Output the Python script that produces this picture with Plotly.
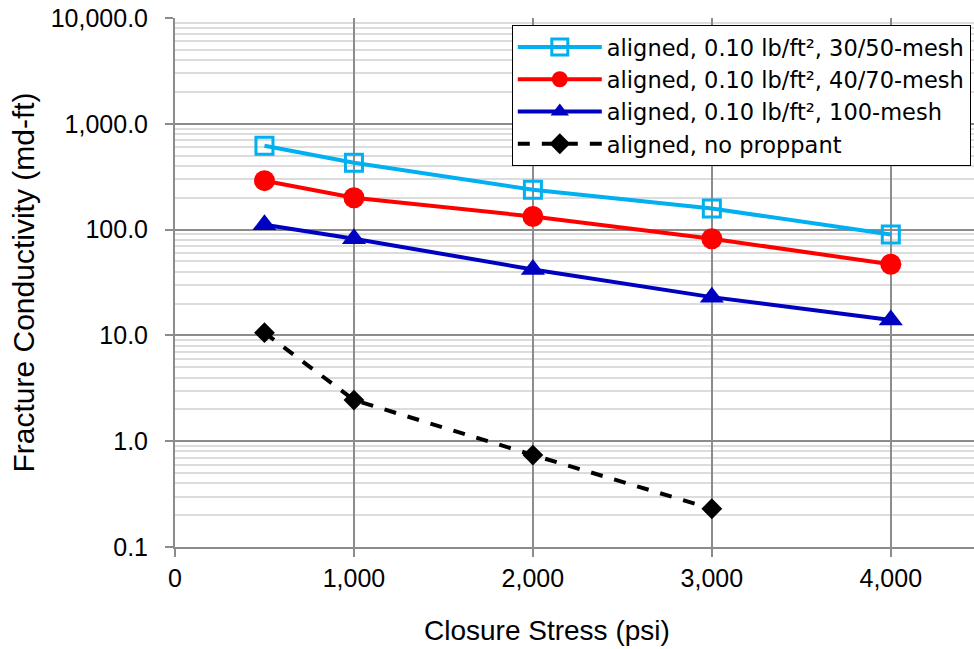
import plotly.graph_objects as go

stress = [500, 1000, 2000, 3000, 4000]
mesh_30_50 = [620, 428, 238, 158, 90]
mesh_40_70 = [290, 200, 133, 82, 47]
mesh_100 = [111, 82, 42, 23, 14]
stress_np = [500, 1000, 2000, 3000]
no_proppant = [10.6, 2.45, 0.74, 0.23]

y_tickvals = [0.1, 1, 10, 100, 1000, 10000]
y_ticktext = ["0.1", "1.0", "10.0", "100.0", "1,000.0", "10,000.0"]
x_tickvals = [0, 1000, 2000, 3000, 4000]
x_ticktext = ["0", "1,000", "2,000", "3,000", "4,000"]

AXIS_FONT = "Liberation Sans, Arial, sans-serif"

fig = go.Figure()
fig.add_trace(go.Scatter(x=stress, y=mesh_30_50, mode="lines+markers",
                         name="aligned, 0.10 lb/ft², 30/50-mesh",
                         line=dict(color="#00B0F0", width=4),
                         marker=dict(symbol="square-open", size=17, color="#00B0F0", line=dict(width=3, color="#00B0F0"))))
fig.add_trace(go.Scatter(x=stress, y=mesh_40_70, mode="lines+markers",
                         name="aligned, 0.10 lb/ft², 40/70-mesh",
                         line=dict(color="#FF0000", width=4),
                         marker=dict(symbol="circle", size=21, color="#FF0000")))
fig.add_trace(go.Scatter(x=stress, y=mesh_100, mode="lines+markers",
                         name="aligned, 0.10 lb/ft², 100-mesh",
                         line=dict(color="#0000C0", width=4),
                         marker=dict(symbol="triangle-up", size=21, color="#0000C0")))
fig.add_trace(go.Scatter(x=stress_np, y=no_proppant, mode="lines+markers",
                         name="aligned, no proppant",
                         line=dict(color="#000000", width=4, dash="dash"),
                         marker=dict(symbol="diamond", size=16, color="#000000")))

fig.update_layout(
    width=974, height=649,
    margin=dict(l=175, r=0, t=18, b=102),
    paper_bgcolor="white", plot_bgcolor="white",
    font=dict(family=AXIS_FONT, size=25, color="#000000"),
    legend=dict(x=0.996, xanchor="right", y=0.987, yanchor="top",
                bgcolor="white", bordercolor="#000000", borderwidth=1,
                font=dict(family="DejaVu Sans, sans-serif", size=22.5),
                itemwidth=84, tracegroupgap=0),
    showlegend=True,
    annotations=[dict(text="Closure Stress (psi)", xref="paper", yref="paper",
                      x=0.4662, y=0, xanchor="center", yanchor="middle", yshift=-83,
                      showarrow=False, font=dict(family=AXIS_FONT, size=28))],
)
fig.update_xaxes(range=[0, 4465], tickmode="array", tickvals=x_tickvals, ticktext=x_ticktext,
                 showgrid=True, gridcolor="#8c8c8c", gridwidth=1.5,
                 showline=True, linecolor="#8c8c8c", linewidth=2,
                 ticks="outside", ticklen=8, tickcolor="#8c8c8c", tickwidth=2,
                 tickfont=dict(family=AXIS_FONT, size=25),
                 zeroline=False)
fig.update_yaxes(type="log", range=[-1, 4], tickmode="array", tickvals=y_tickvals, ticktext=y_ticktext,
                 showgrid=True, gridcolor="#8c8c8c", gridwidth=1.5,
                 showline=True, linecolor="#8c8c8c", linewidth=2,
                 ticks="outside", ticklen=8, tickcolor="#8c8c8c", tickwidth=2,
                 ticklabelstandoff=12,
                 tickfont=dict(family=AXIS_FONT, size=25),
                 minor=dict(dtick="D1", showgrid=True, gridcolor="#dcdcdc", gridwidth=1.5, ticks=""),
                 title=dict(text="Fracture Conductivity (md-ft)", standoff=7,
                            font=dict(family=AXIS_FONT, size=30)),
                 zeroline=False)

fig.write_html("out.html")
